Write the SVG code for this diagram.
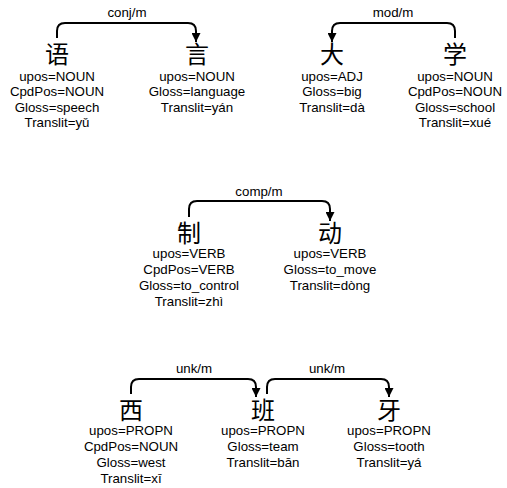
<svg xmlns="http://www.w3.org/2000/svg" width="507" height="488" viewBox="0 0 507 488">
<style>
.w{font-family:"Noto Sans CJK SC","Noto Sans CJK JP",sans-serif;font-size:24px;text-anchor:middle;fill:#000}
.t{font-family:"Liberation Sans",Arial,sans-serif;font-size:13.3px;text-anchor:middle;fill:#000}
.e{fill:none;stroke:#000;stroke-width:2}
</style>
<defs>
<marker id="ah" viewBox="0 0 10 10" refX="10" refY="5" markerWidth="4.5" markerHeight="4.5" orient="auto" markerUnits="strokeWidth">
<path d="M0,0 L10,5 L0,10 z" fill="#000"/>
</marker>
</defs>
<g id="edges">
<path class="e" marker-end="url(#ah)" d="M57,38 V31 Q57,23 65,23 H188 Q196,23 196,31 V42"/>
<text class="t" x="127" y="17">conj/m</text>
<path class="e" marker-end="url(#ah)" d="M455,38 V31 Q455,23 447,23 H340 Q332,23 332,31 V42"/>
<text class="t" x="393" y="17">mod/m</text>
<path class="e" marker-end="url(#ah)" d="M189,217 V209 Q189,201 197,201 H322 Q330,201 330,209 V221"/>
<text class="t" x="259" y="196">comp/m</text>
<path class="e" marker-end="url(#ah)" d="M131,394 V387 Q131,379 139,379 H248 Q256,379 256,387 V397"/>
<text class="t" x="194" y="373">unk/m</text>
<path class="e" marker-end="url(#ah)" d="M267,394 V387 Q267,379 275,379 H381 Q389,379 389,387 V397"/>
<text class="t" x="327" y="373">unk/m</text>
</g>
<g id="n1">
<text class="w" x="57" y="63">语</text>
<text class="t" x="57" y="80.5">upos=NOUN</text>
<text class="t" x="57" y="96">CpdPos=NOUN</text>
<text class="t" x="57" y="111.5">Gloss=speech</text>
<text class="t" x="57" y="127">Translit=yǔ</text>
</g>
<g id="n2">
<text class="w" x="197" y="63">言</text>
<text class="t" x="197" y="80.5">upos=NOUN</text>
<text class="t" x="197" y="96">Gloss=language</text>
<text class="t" x="197" y="111.5">Translit=yán</text>
</g>
<g id="n3">
<text class="w" x="332" y="63">大</text>
<text class="t" x="332" y="80.5">upos=ADJ</text>
<text class="t" x="332" y="96">Gloss=big</text>
<text class="t" x="332" y="111.5">Translit=dà</text>
</g>
<g id="n4">
<text class="w" x="455" y="63">学</text>
<text class="t" x="455" y="80.5">upos=NOUN</text>
<text class="t" x="455" y="96">CpdPos=NOUN</text>
<text class="t" x="455" y="111.5">Gloss=school</text>
<text class="t" x="455" y="127">Translit=xué</text>
</g>
<g id="n5">
<text class="w" x="189" y="242">制</text>
<text class="t" x="189" y="258">upos=VERB</text>
<text class="t" x="189" y="274">CpdPos=VERB</text>
<text class="t" x="189" y="290">Gloss=to_control</text>
<text class="t" x="189" y="306">Translit=zhì</text>
</g>
<g id="n6">
<text class="w" x="330" y="242">动</text>
<text class="t" x="330" y="258">upos=VERB</text>
<text class="t" x="330" y="274">Gloss=to_move</text>
<text class="t" x="330" y="290">Translit=dòng</text>
</g>
<g id="n7">
<text class="w" x="131" y="419">西</text>
<text class="t" x="131" y="435">upos=PROPN</text>
<text class="t" x="131" y="451">CpdPos=NOUN</text>
<text class="t" x="131" y="467">Gloss=west</text>
<text class="t" x="131" y="483">Translit=xī</text>
</g>
<g id="n8">
<text class="w" x="263" y="419">班</text>
<text class="t" x="263" y="435">upos=PROPN</text>
<text class="t" x="263" y="451">Gloss=team</text>
<text class="t" x="263" y="467">Translit=bān</text>
</g>
<g id="n9">
<text class="w" x="389" y="419">牙</text>
<text class="t" x="389" y="435">upos=PROPN</text>
<text class="t" x="389" y="451">Gloss=tooth</text>
<text class="t" x="389" y="467">Translit=yá</text>
</g>
</svg>
